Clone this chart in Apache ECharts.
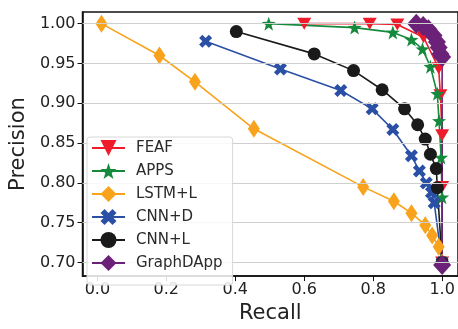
<!DOCTYPE html>
<html>
<head>
<meta charset="utf-8">
<script src="https://cdn.jsdelivr.net/npm/echarts@6/dist/echarts.min.js"></script>
<style>html,body{margin:0;padding:0;background:#fff;}#c{width:458px;height:329px;}</style>
</head>
<body>
<div id="c"></div>
<script>
var xTicks = [0.0, 0.2, 0.4, 0.6, 0.8, 1.0];
var yTicks = [0.70, 0.75, 0.80, 0.85, 0.90, 0.95, 1.00];

var feafX = [0.60, 0.79, 0.87, 0.946, 0.99, 0.995, 1.0, 1.0, 1.0];
var feafY = [1.000, 1.000, 0.999, 0.983, 0.944, 0.910, 0.860, 0.795, 0.700];

var appsX = [0.497, 0.746, 0.857, 0.911, 0.943, 0.966, 0.986, 0.991, 0.997, 1.0, 1.0];
var appsY = [1.000, 0.995, 0.989, 0.980, 0.968, 0.946, 0.912, 0.878, 0.832, 0.782, 0.700];

var lstmX = [0.012, 0.18, 0.283, 0.454, 0.771, 0.86, 0.911, 0.951, 0.971, 0.99, 1.0];
var lstmY = [1.000, 0.960, 0.927, 0.868, 0.795, 0.777, 0.762, 0.747, 0.734, 0.720, 0.700];

var cnndX = [0.314, 0.531, 0.706, 0.797, 0.857, 0.911, 0.934, 0.954, 0.969, 0.977, 1.0];
var cnndY = [0.978, 0.943, 0.916, 0.893, 0.867, 0.834, 0.815, 0.800, 0.788, 0.775, 0.700];

var cnnlX = [0.403, 0.629, 0.743, 0.826, 0.891, 0.929, 0.951, 0.966, 0.983, 0.986, 1.0];
var cnnlY = [0.990, 0.962, 0.941, 0.917, 0.893, 0.873, 0.855, 0.836, 0.818, 0.794, 0.700];

var gdX = [0.925, 0.945, 0.96, 0.975, 0.985, 0.99, 0.995, 1.0, 1.0];
var gdY = [1.000, 0.997, 0.993, 0.985, 0.977, 0.970, 0.962, 0.958, 0.697];

function pairs(xs, ys) { return xs.map(function (x, i) { return [x, ys[i]]; }); }

var STAR = 'path://M0,-10 L2.35,-3.24 L9.51,-3.09 L3.8,1.24 L5.88,8.09 L0,4 L-5.88,8.09 L-3.8,1.24 L-9.51,-3.09 L-2.35,-3.24 Z';
var XMARK = 'path://M2.5,0 L5,2.5 L7.5,0 L10,2.5 L7.5,5 L10,7.5 L7.5,10 L5,7.5 L2.5,10 L0,7.5 L2.5,5 L0,2.5 Z';

var font = 'DejaVu Sans';

function mk(name, xs, ys, color, symbol, size, rot) {
  return {
    name: name, type: 'line', data: pairs(xs, ys),
    symbol: symbol, symbolSize: size, symbolRotate: rot || 0,
    showAllSymbol: true,
    lineStyle: { color: color, width: 1.6 },
    itemStyle: { color: color, borderWidth: 0 },
    emphasis: { disabled: true },
    animation: false, z: 3
  };
}

var series = [
  {
    name: 'grid', type: 'line', data: [], z: 1, silent: true, animation: false,
    markLine: {
      silent: true, symbol: 'none', animation: false,
      label: { show: false },
      lineStyle: { color: '#cfcfcf', width: 1, type: 'solid' },
      data: yTicks.map(function (v) { return { yAxis: v }; })
    }
  },
  mk('FEAF', feafX, feafY, '#ee1c2a', 'triangle', [14, 12], 180),
  mk('APPS', appsX, appsY, '#168a3c', STAR, 14),
  mk('LSTM+L', lstmX, lstmY, '#f9a31c', 'diamond', [12, 18]),
  mk('CNN+D', cnndX, cnndY, '#2a50a6', XMARK, 13),
  mk('CNN+L', cnnlX, cnnlY, '#1a1a1a', 'circle', 13),
  mk('GraphDApp', gdX, gdY, '#6c2178', 'diamond', [18, 20])
];

var chart = echarts.init(document.getElementById('c'), null, { renderer: 'canvas' });
chart.setOption({
  animation: false,
  backgroundColor: '#fff',
  grid: { left: 77, top: 12, right: -1, bottom: 45, show: true, borderColor: '#111', borderWidth: 1.5, backgroundColor: 'transparent' },
  legend: {
    data: ['FEAF', 'APPS', 'LSTM+L', 'CNN+D', 'CNN+L', 'GraphDApp'],
    orient: 'vertical', left: 87, top: 137,
    itemWidth: 33, itemHeight: 20, itemGap: 7,
    padding: [3, 10, 14, 4],
    backgroundColor: 'rgba(255,255,255,0.85)',
    borderColor: '#d8d8d8', borderWidth: 1, borderRadius: 3,
    textStyle: { fontFamily: font, fontSize: 15, color: '#2a2a2a', padding: [0, 0, 0, 6] },
    selectedMode: false,
    z: 10
  },
  xAxis: {
    type: 'value', min: -0.043, max: 1.046,
    name: 'Recall', nameLocation: 'middle', nameGap: 25,
    nameTextStyle: { fontFamily: font, fontSize: 21, color: '#222', verticalAlign: 'top' },
    axisLine: { show: true, onZero: false, lineStyle: { color: '#111', width: 1.5 } },
    axisTick: { show: true, customValues: xTicks, length: 5, lineStyle: { color: '#111', width: 1 } },
    axisLabel: { customValues: xTicks, margin: 6, fontFamily: font, fontSize: 16, color: '#222',
      formatter: function (v) { return v.toFixed(1); } },
    splitLine: { show: false }
  },
  yAxis: {
    type: 'value', min: 0.683, max: 1.0146,
    name: 'Precision', nameLocation: 'middle', nameGap: 47,
    nameTextStyle: { fontFamily: font, fontSize: 21, color: '#222' },
    axisLine: { show: true, onZero: false, lineStyle: { color: '#111', width: 1.5 } },
    axisTick: { show: true, customValues: yTicks, length: 5, lineStyle: { color: '#111', width: 1 } },
    axisLabel: { customValues: yTicks, margin: 7, fontFamily: font, fontSize: 16, color: '#222',
      formatter: function (v) { return v.toFixed(2); } },
    splitLine: { show: false }
  },
  series: series
});
</script>
</body>
</html>
